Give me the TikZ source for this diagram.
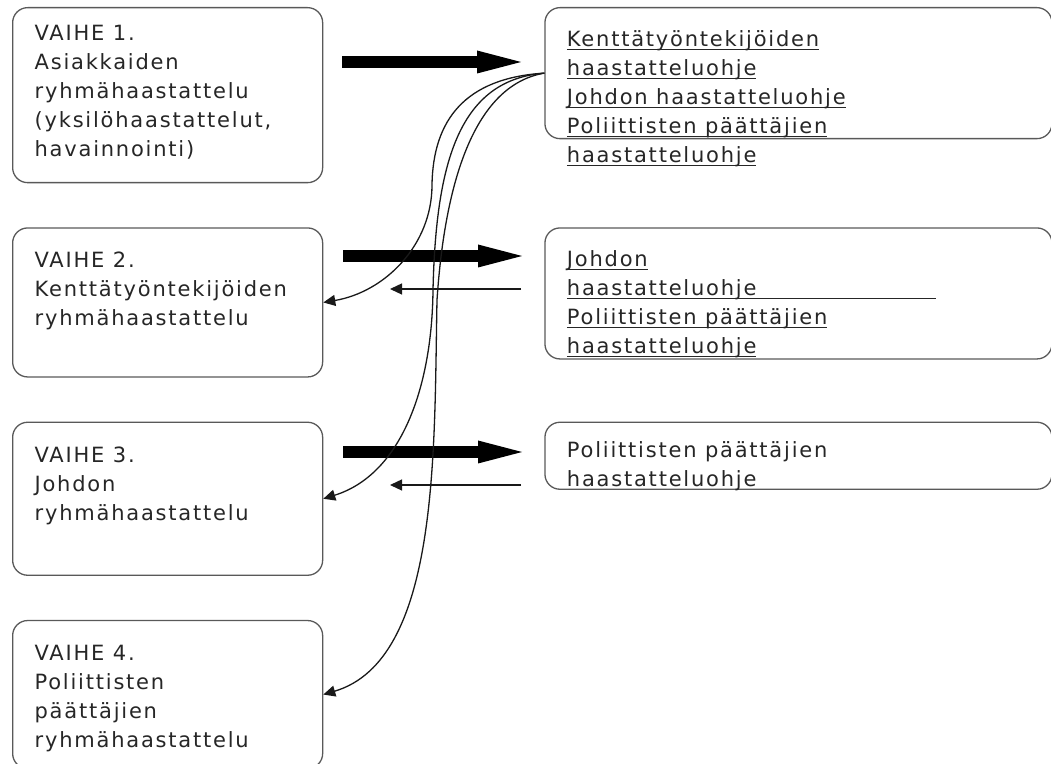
\documentclass[tikz,border=0pt]{standalone}
\usepackage{fontspec}
\setmainfont{DejaVu Sans}[LetterSpace=8.5]
\usetikzlibrary{positioning, arrows.meta}

\newsavebox\ulbox
\newcommand{\ulline}[1]{\leavevmode\sbox\ulbox{#1}\rlap{\rule[-1.7pt]{\wd\ulbox}{0.7pt}}\usebox\ulbox}
\newcommand{\boxtext}[3]{\parbox[t][#1][t]{#2}{\raggedright\fontsize{10.5pt}{14.5pt}\selectfont #3}}

\begin{document}
\begin{tikzpicture}[x=0.5pt, y=-0.5pt, node distance=22pt,
  vaihe/.style = {draw=black!65, line width=0.65pt, rounded corners=7.5pt, text=black!85, inner xsep=11pt, inner ysep=12.1pt, anchor=north west},
  ohje/.style = {vaihe, inner ysep=11.5pt},
  bigarrow/.style = {line width=6pt, -{Triangle[length=22pt, width=11.5pt, line width=0pt]}},
  smallarrow/.style = {black!90, line width=0.65pt, -{Triangle[length=6pt, width=5.5pt]}}]
\useasboundingbox (0,0) rectangle (1051,764);
\node[vaihe, inner ysep=8.9pt] (v1) at (12,7) {\boxtext{69.7pt}{133pt}{VAIHE 1.\\Asiakkaiden\\ryhmähaastattelu\\(yksilöhaastattelut,\\havainnointi)}};
\node[vaihe, below=of v1] (v2) {\boxtext{50.3pt}{133pt}{VAIHE 2.\\Kenttätyöntekijöiden\\ryhmähaastattelu}};
\node[vaihe, below=of v2] (v3) {\boxtext{52.3pt}{133pt}{VAIHE 3.\\Johdon\\ryhmähaastattelu}};
\node[vaihe, below=of v3] (v4) {\boxtext{49.8pt}{133pt}{VAIHE 4.\\Poliittisten\\päättäjien\\ryhmähaastattelu}};
\node[ohje, right=110.5pt of v1.north east, anchor=north west] (r1) {\boxtext{42.5pt}{231.5pt}{\ulline{Kenttätyöntekijöiden}\\\ulline{haastatteluohje}\\\ulline{Johdon haastatteluohje}\\\ulline{Poliittisten päättäjien}\\\ulline{haastatteluohje}}};
\node[ohje, right=110.5pt of v2.north east, anchor=north west] (r2) {\boxtext{42.5pt}{231.5pt}{\ulline{Johdon}\\\ulline{\makebox[184.5pt][l]{haastatteluohje}}\\\ulline{Poliittisten päättäjien}\\\ulline{haastatteluohje}}};
\node[ohje, inner ysep=9.5pt, right=110.5pt of v3.north east, anchor=north west] (r3) {\boxtext{14.5pt}{231.5pt}{Poliittisten päättäjien\\haastatteluohje}};
\coordinate (a1) at (342,62);
\coordinate (b1) at (521,62);
\coordinate (a2) at (343,256);
\coordinate (b2) at (522,256);
\coordinate (a3) at (343,452);
\coordinate (b3) at (522,452);
\coordinate (c2) at (521,289);
\coordinate (d2) at (390,289);
\coordinate (c3) at (521,485);
\coordinate (d3) at (390,485);
\draw[bigarrow] (a1) -- (b1);
\draw[bigarrow] (a2) -- (b2);
\draw[bigarrow] (a3) -- (b3);
\draw[smallarrow] (c2) -- (d2);
\draw[smallarrow] (c3) -- (d3);
\draw[smallarrow] (r1.west) .. controls (465,78) and (433,120) .. (432,185) .. controls (432,245) and (385,292) .. (v2.east);
\draw[smallarrow] (r1.west) .. controls (460,80) and (436,160) .. (433,290) .. controls (432,390) and (400,475) .. (v3.east);
\draw[smallarrow] (r1.west) .. controls (475,85) and (445,180) .. (437,300) .. controls (434,450) and (440,660) .. (v4.east);
\end{tikzpicture}
\end{document}
